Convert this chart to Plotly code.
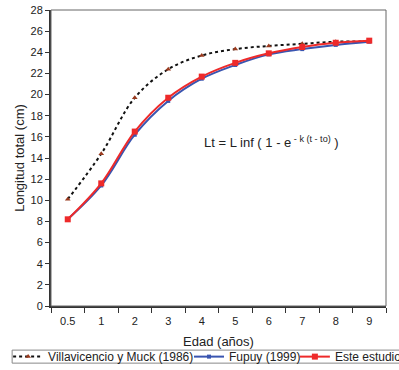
import plotly.graph_objects as go

edades = ["0.5", "1", "2", "3", "4", "5", "6", "7", "8", "9"]
villavicencio = [10.1, 14.4, 19.7, 22.4, 23.7, 24.3, 24.6, 24.8, 25.0, 25.0]
fupuy = [8.2, 11.4, 16.2, 19.4, 21.5, 22.8, 23.8, 24.3, 24.7, 25.0]
este_estudio = [8.2, 11.6, 16.5, 19.7, 21.7, 23.0, 23.9, 24.5, 24.9, 25.1]
y_ticks = list(range(0, 29, 2))

font = "Liberation Sans, Arial, sans-serif"

fig = go.Figure()
fig.add_trace(go.Scatter(
    x=edades, y=villavicencio, name="Villavicencio y Muck (1986)", legend="legend",
    mode="lines+markers", line=dict(color="#111111", width=2, dash="dot", shape="spline"),
    marker=dict(symbol="triangle-up", size=5, color="#9a3a1e")))
fig.add_trace(go.Scatter(
    x=edades, y=fupuy, name="Fupuy (1999)", legend="legend2",
    mode="lines+markers", line=dict(color="#3a55b0", width=2, shape="spline"),
    marker=dict(symbol="square", size=4, color="#3a55b0")))
fig.add_trace(go.Scatter(
    x=edades, y=este_estudio, name="Este estudio", legend="legend3",
    mode="lines+markers", line=dict(color="#ee2a2a", width=2, shape="spline"),
    marker=dict(symbol="square", size=6, color="#ee2a2a")))

fig.add_annotation(
    x=0.45, y=0.555, xref="paper", yref="paper", xanchor="left", yanchor="middle",
    text="Lt = L inf ( 1 - e<sup> - k (t - to)</sup> )", showarrow=False,
    font=dict(family=font, size=13, color="#222222"))

# plot frame
fig.add_shape(type="rect", xref="paper", yref="paper", x0=0, y0=0, x1=1, y1=1,
              line=dict(color="#666666", width=1))
# legend box
fig.add_shape(type="rect", xref="paper", yref="paper", x0=-0.116, y0=-0.193, x1=1.06, y1=-0.149,
              line=dict(color="#888888", width=1))

leg_common = dict(orientation="h", yanchor="middle", y=-0.171, xanchor="left",
                  font=dict(family=font, size=12, color="#222222"),
                  borderwidth=0, bgcolor="rgba(0,0,0,0)", itemwidth=30)

fig.update_layout(
    width=399, height=370,
    margin=dict(l=51, r=13, t=10, b=64, autoexpand=False),
    paper_bgcolor="white", plot_bgcolor="white",
    font=dict(family=font, size=10, color="#222222"),
    showlegend=True,
    legend=dict(x=-0.128, **leg_common),
    legend2=dict(x=0.412, **leg_common),
    legend3=dict(x=0.728, **leg_common),
    xaxis=dict(type="category", categoryorder="array", categoryarray=edades,
               range=[-0.5, 9.5], tickson="boundaries", ticks="outside", ticklen=5,
               tickcolor="#333333", showline=True, linecolor="#333333", linewidth=2,
               showgrid=False, zeroline=False, ticklabelstandoff=4,
               title=dict(text="Edad (años)", font=dict(size=13), standoff=11),
               tickfont=dict(size=11)),
    yaxis=dict(range=[0, 28], tickvals=y_ticks, ticks="outside", ticklen=4,
               tickcolor="#333333", showline=True, linecolor="#333333", linewidth=2,
               showgrid=False, zeroline=False,
               title=dict(text="Longitud total (cm)", font=dict(size=13), standoff=3),
               tickfont=dict(size=11)),
)

fig.write_html("out.html", config={"displayModeBar": False},
               post_script="document.body.style.margin='0px';")
